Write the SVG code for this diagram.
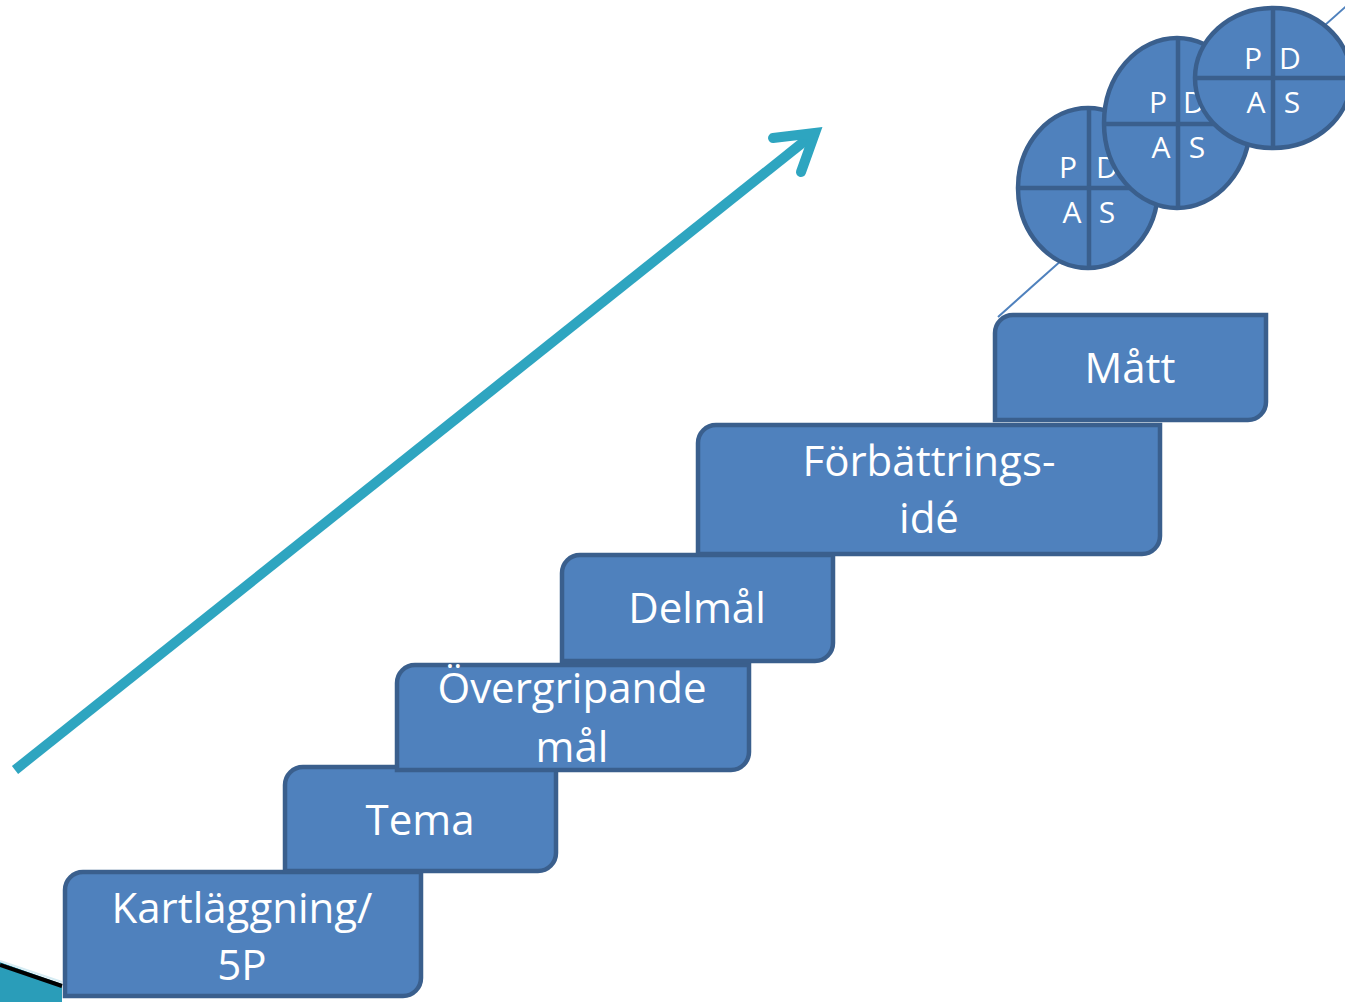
<svg xmlns="http://www.w3.org/2000/svg" width="1345" height="1002" viewBox="0 0 1345 1002">
<style>
.box{fill:#4F81BD;stroke:#3A5F8D;stroke-width:4.5}
.lbl{font-family:"Open Sans","Noto Sans",sans-serif;font-size:42px;fill:#fff;text-anchor:middle}
.pd{fill:#4F81BD;stroke:#3A5F8D;stroke-width:4.5}
.div{stroke:#3A5F8D;stroke-width:4.5}
.let{font-family:"Open Sans","Noto Sans",sans-serif;font-size:30px;fill:#fff;text-anchor:middle}
</style>
<rect width="1345" height="1002" fill="#fff"/>
<g id="corner-deco">
<polygon points="0,962 62,984 62,1002 0,1002" fill="#2A9DB9"/>
<line x1="0" y1="961" x2="62" y2="982" stroke="#D6ECF3" stroke-width="2"/>
<line x1="0" y1="965" x2="62" y2="986" stroke="#000" stroke-width="4"/>
</g>
<g id="connectors">
<line x1="998" y1="317" x2="1352" y2="1" stroke="#4F81BD" stroke-width="2"/>
<line x1="15" y1="770" x2="811" y2="136" stroke="#2EA5C0" stroke-width="10"/>
<polyline points="773,138 815,133 801,172" fill="none" stroke="#2EA5C0" stroke-width="10" stroke-linecap="round" stroke-linejoin="miter"/>
</g>
<g id="pdsa1">
<ellipse class="pd" cx="1088" cy="188" rx="70" ry="80"/>
<line class="div" x1="1089" y1="108" x2="1089" y2="268"/>
<line class="div" x1="1018" y1="188" x2="1158" y2="188"/>
<text class="let" x="1068" y="178">P</text><text class="let" x="1107" y="178">D</text>
<text class="let" x="1072" y="223">A</text><text class="let" x="1107" y="223">S</text>
</g>
<g id="pdsa2">
<ellipse class="pd" cx="1177" cy="123" rx="73" ry="85"/>
<line class="div" x1="1178" y1="38" x2="1178" y2="208"/>
<line class="div" x1="1104" y1="124" x2="1250" y2="124"/>
<text class="let" x="1158" y="113">P</text><text class="let" x="1194" y="113">D</text>
<text class="let" x="1161" y="158">A</text><text class="let" x="1197" y="158">S</text>
</g>
<g id="pdsa3">
<ellipse class="pd" cx="1273" cy="78" rx="78" ry="70"/>
<line class="div" x1="1273" y1="8" x2="1273" y2="148"/>
<line class="div" x1="1195" y1="78" x2="1351" y2="78"/>
<text class="let" x="1253" y="69">P</text><text class="let" x="1290" y="69">D</text>
<text class="let" x="1256" y="113">A</text><text class="let" x="1292" y="113">S</text>
</g>
<g id="kartlaggning">
<path class="box" d="M83,872 H421 V978 A18,18 0 0 1 403,996 H65 V890 A18,18 0 0 1 83,872 Z"/>
<text class="lbl" x="242" y="923">Kartläggning/</text>
<text class="lbl" x="242" y="980">5P</text>
</g>
<g id="tema">
<path class="box" d="M303,767 H556 V853 A18,18 0 0 1 538,871 H285 V785 A18,18 0 0 1 303,767 Z"/>
<text class="lbl" x="420" y="835">Tema</text>
</g>
<g id="overgripande">
<path class="box" d="M415,665 H749 V752 A18,18 0 0 1 731,770 H397 V683 A18,18 0 0 1 415,665 Z"/>
<text class="lbl" x="572" y="703">Övergripande</text>
<text class="lbl" x="572" y="762">mål</text>
</g>
<g id="delmal">
<path class="box" d="M580,555 H833 V643 A18,18 0 0 1 815,661 H562 V573 A18,18 0 0 1 580,555 Z"/>
<text class="lbl" x="697" y="623">Delmål</text>
</g>
<g id="forbattring">
<path class="box" d="M716,425 H1160 V536 A18,18 0 0 1 1142,554 H698 V443 A18,18 0 0 1 716,425 Z"/>
<text class="lbl" x="929" y="476">Förbättrings-</text>
<text class="lbl" x="929" y="533">idé</text>
</g>
<g id="matt">
<path class="box" d="M1013,315 H1266 V402 A18,18 0 0 1 1248,420 H995 V333 A18,18 0 0 1 1013,315 Z"/>
<text class="lbl" x="1130" y="383">Mått</text>
</g>
</svg>
